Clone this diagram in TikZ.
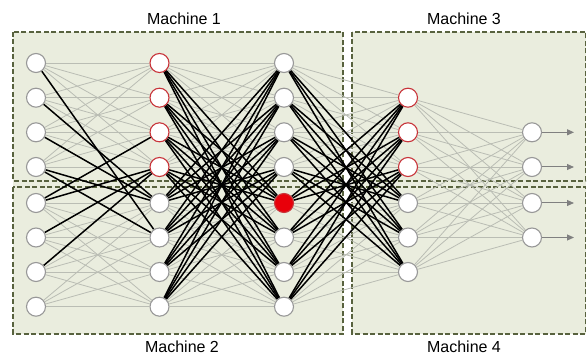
\documentclass[tikz,border=0pt]{standalone}
\usepackage{fontspec}
\setmainfont{Liberation Sans}
\usetikzlibrary{arrows.meta}

\definecolor{boxfill}{RGB}{234,237,222}
\definecolor{boxline}{RGB}{88,98,62}
\definecolor{nodeline}{RGB}{152,152,152}
\definecolor{redline}{RGB}{200,52,58}
\definecolor{redfill}{RGB}{232,0,10}
\definecolor{thinlink}{RGB}{186,189,180}
\definecolor{outgray}{RGB}{128,128,128}

\pgfdeclarelayer{boxes}
\pgfdeclarelayer{links}
\pgfsetlayers{boxes,links,main}

\begin{document}
\begin{tikzpicture}[x=1pt,y=-1pt,
  unit/.style={circle,draw=nodeline,fill=white,line width=1.1pt,minimum size=19pt,inner sep=0pt},
  hot/.style={unit,draw=redline},
  fired/.style={unit,draw=redline,fill=redfill},
  local/.style={draw=thinlink,line width=0.8pt},
  remote/.style={draw=black,line width=1.5pt},
  output/.style={draw=outgray,line width=1pt,-{Triangle[length=7pt,width=6pt]}},
  machine/.style={draw=boxline,fill=boxfill,line width=1.3pt,dash pattern=on 5pt off 2.5pt},
  tag/.style={font=\fontsize{16}{18}\selectfont,inner sep=0pt}
]
\useasboundingbox (0,0) rectangle (587,358);

% machine partitions
\begin{pgfonlayer}{boxes}
  \fill[boxfill] (13,181) rectangle (343,187);
  \fill[boxfill] (352,181) rectangle (585.5,187);
  \draw[machine] (13,32) rectangle (343,181);
  \draw[machine] (13,187) rectangle (343,334);
  \draw[machine] (352,32) rectangle (585.5,181);
  \draw[machine] (352,187) rectangle (585.5,334);
\end{pgfonlayer}

\node[tag] (m1) at (184,19) {Machine 1};
\node[tag] (m3) at (464,19) {Machine 3};
\node[tag] (m2) at (182,347) {Machine 2};
\node[tag] (m4) at (464,347) {Machine 4};

% units of the first three layers
\foreach \i/\y/\sb/\sc in {1/63/hot/unit,2/97.7/hot/unit,3/132.3/hot/unit,4/167/hot/unit,
                           5/203/unit/fired,6/237.5/unit/unit,7/272/unit/unit,8/306.7/unit/unit}{
  \node[unit] (a\i) at (36,\y) {};
  \node[\sb] (b\i) at (159.5,\y) {};
  \node[\sc] (c\i) at (284,\y) {};
}
% fourth layer
\foreach \i/\y/\sd in {2/97.7/hot,3/132.3/hot,4/167/hot,5/203/unit,6/237.5/unit,7/272/unit}
  \node[\sd] (d\i) at (408,\y) {};
% output layer
\foreach \i/\y in {3/132.3,4/167,5/203,6/237.5}{
  \node[unit] (e\i) at (532,\y) {};
  \coordinate (o\i) at (574,\y);
}

\begin{pgfonlayer}{links}
  % links that stay inside one machine
  \foreach \i in {1,...,4} \foreach \j in {1,...,4} {
    \draw[local] (a\i) -- (b\j);
    \draw[local] (b\i) -- (c\j);
  }
  \foreach \i in {5,...,8} \foreach \j in {5,...,8} {
    \draw[local] (a\i) -- (b\j);
    \draw[local] (b\i) -- (c\j);
  }
  \foreach \i in {1,...,4} \foreach \j in {2,3,4} \draw[local] (c\i) -- (d\j);
  \foreach \i in {5,...,8} \foreach \j in {5,6,7} \draw[local] (c\i) -- (d\j);
  \foreach \i in {2,...,7} \foreach \j in {3,...,6} \draw[local] (d\i) -- (e\j);
  % links between machines
  \foreach \i/\j in {1/6,2/5,3/5,4/5,4/6,5/3,5/4,6/4,7/4} \draw[remote] (a\i) -- (b\j);
  \foreach \i in {1,...,4} \foreach \j in {5,...,8} {
    \draw[remote] (b\i) -- (c\j);
    \draw[remote] (b\j) -- (c\i);
  }
  \foreach \i in {1,...,4} \foreach \j in {5,6,7} \draw[remote] (c\i) -- (d\j);
  \foreach \i in {5,...,8} \foreach \j in {2,3,4} \draw[remote] (c\i) -- (d\j);
\end{pgfonlayer}

% outputs
\foreach \j in {3,...,6} \draw[output] (e\j) -- (o\j);
\end{tikzpicture}
\end{document}
